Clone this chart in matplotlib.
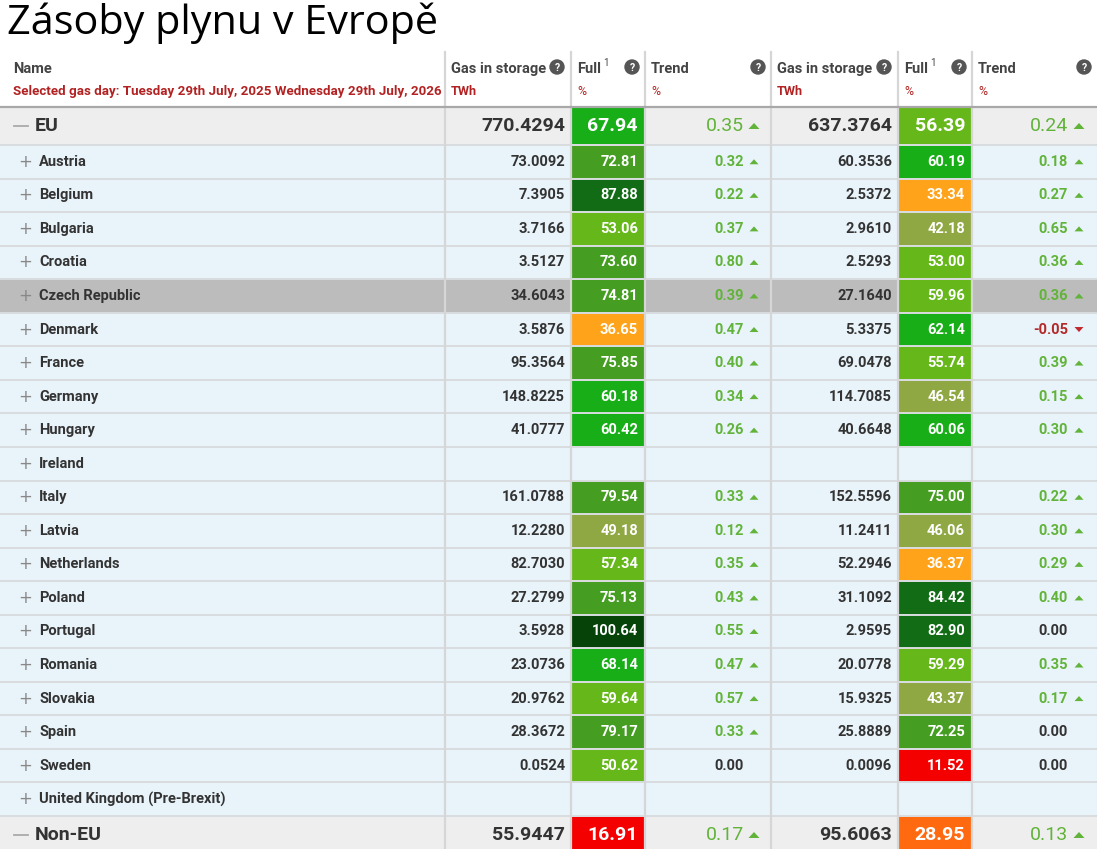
import matplotlib.pyplot as plt
from matplotlib.patches import Rectangle, Circle, Polygon

title = "Zásoby plynu v Evropě"
gas_day = "Selected gas day: Tuesday 29th July, 2025 Wednesday 29th July, 2026"

countries = ["Austria", "Belgium", "Bulgaria", "Croatia", "Czech Republic", "Denmark",
             "France", "Germany", "Hungary", "Ireland", "Italy", "Latvia", "Netherlands",
             "Poland", "Portugal", "Romania", "Slovakia", "Spain", "Sweden",
             "United Kingdom (Pre-Brexit)"]
gas_2025 = [73.0092, 7.3905, 3.7166, 3.5127, 34.6043, 3.5876, 95.3564, 148.8225, 41.0777, None,
            161.0788, 12.2280, 82.7030, 27.2799, 3.5928, 23.0736, 20.9762, 28.3672, 0.0524, None]
full_2025 = [72.81, 87.88, 53.06, 73.60, 74.81, 36.65, 75.85, 60.18, 60.42, None,
             79.54, 49.18, 57.34, 75.13, 100.64, 68.14, 59.64, 79.17, 50.62, None]
trend_2025 = [0.32, 0.22, 0.37, 0.80, 0.39, 0.47, 0.40, 0.34, 0.26, None,
              0.33, 0.12, 0.35, 0.43, 0.55, 0.47, 0.57, 0.33, 0.00, None]
gas_2026 = [60.3536, 2.5372, 2.9610, 2.5293, 27.1640, 5.3375, 69.0478, 114.7085, 40.6648, None,
            152.5596, 11.2411, 52.2946, 31.1092, 2.9595, 20.0778, 15.9325, 25.8889, 0.0096, None]
full_2026 = [60.19, 33.34, 42.18, 53.00, 59.96, 62.14, 55.74, 46.54, 60.06, None,
             75.00, 46.06, 36.37, 84.42, 82.90, 59.29, 43.37, 72.25, 11.52, None]
trend_2026 = [0.18, 0.27, 0.65, 0.36, 0.36, -0.05, 0.39, 0.15, 0.30, None,
              0.22, 0.30, 0.29, 0.40, 0.00, 0.35, 0.17, 0.00, 0.00, None]

eu_values = [770.4294, 67.94, 0.35, 637.3764, 56.39, 0.24]
noneu_values = [55.9447, 16.91, 0.17, 95.6063, 28.95, 0.13]
highlight = "Czech Republic"

# fill colour bands (upper bound, colour)
bands = [(20, "#f50000"), (30, "#ff6a10"), (40, "#ffa41a"), (50, "#8fa843"),
         (60, "#66b81a"), (70, "#18ae18"), (80, "#459e22"), (90, "#126c16"), (999, "#054309")]

W, H = 1097, 849
cols = [0, 445, 571, 645, 771, 898, 972, 1097]
head_top, head_bot = 52, 107
eu_h = 38
row_h = 33.55

TXT = "#333333"
GREEN = "#62b33a"
RED = "#b22a2a"
HRED = "#b22222"
LINE = "#d8dcdf"
FONT = "Roboto"


def fill_color(v):
    for lim, c in bands:
        if v < lim:
            return c


fig = plt.figure(figsize=(W / 100, H / 100), dpi=100)
ax = fig.add_axes([0, 0, 1, 1])
ax.set_xlim(0, W)
ax.set_ylim(H, 0)
ax.axis("off")

ax.text(7, 23, title, fontsize=29.8, family="Open Sans", va="center", ha="left", color="black")


def qmark(x, y):
    ax.add_patch(Circle((x, y), 7, color="#555555", zorder=4))
    ax.text(x, y + 0.5, "?", fontsize=7.5, color="white", weight="bold", family=FONT,
            ha="center", va="center", zorder=5)


# header
ax.text(13, 69, "Name", fontsize=10.5, weight="bold", color="#444444", family=FONT, va="center")
ax.text(13, 91, gas_day, fontsize=9.6, weight="bold", color=HRED, family=FONT, va="center")
for g in range(2):
    c0 = 3 * g
    xg, xf, xt = cols[1 + c0], cols[2 + c0], cols[3 + c0]
    ax.text(xg + 6, 69, "Gas in storage", fontsize=10.5, weight="bold", color="#444444",
            family=FONT, va="center")
    ax.text(xg + 6, 91, "TWh", fontsize=9.2, weight="bold", color=HRED, family=FONT, va="center")
    qmark(cols[2 + c0] - 14, 67)
    ax.text(xf + 6, 69, "Full", fontsize=10.5, weight="bold", color="#444444", family=FONT,
            va="center")
    ax.text(xf + 32, 63, "1", fontsize=7, color="#444444", family=FONT, va="center")
    qmark(cols[3 + c0] - 13, 67)
    ax.text(xf + 6, 91, "%", fontsize=8.8, color=HRED, family=FONT, va="center")
    ax.text(xt + 6, 69, "Trend", fontsize=10.5, weight="bold", color="#444444", family=FONT,
            va="center")
    ax.text(xt + 6, 91, "%", fontsize=8.8, color=HRED, family=FONT, va="center")
    qmark(cols[4 + c0] - 13, 67)


def arrow(x, y, up, color, big):
    w = 5.5 if big else 4.5
    hh = 3 if big else 2.5
    if up:
        pts = [(x - w, y + hh), (x + w, y + hh), (x, y - hh)]
    else:
        pts = [(x - w, y - hh), (x + w, y - hh), (x, y + hh)]
    ax.add_patch(Polygon(pts, closed=True, color=color, zorder=4, lw=0))


def draw_row(y0, h, name, vals, bg, big):
    yc = y0 + h / 2
    ax.add_patch(Rectangle((0, y0), W, h, color=bg, zorder=1, lw=0))
    fs = 14 if big else 10.5
    if big:
        ax.plot([14, 28], [yc, yc], color="#aaaaaa", lw=1.3, zorder=3)
        ax.text(35, yc, name, fontsize=fs, weight="bold", color=TXT, family=FONT, va="center")
    else:
        ax.text(25.5, yc, "+", fontsize=12, color="#888888", family="DejaVu Sans", va="center",
                ha="center")
        ax.text(39, yc, name, fontsize=fs, weight="bold", color=TXT, family=FONT, va="center")
    for g in range(2):
        gas, full, trend = vals[3 * g: 3 * g + 3]
        c0 = 3 * g
        if gas is None:
            continue
        ax.text(cols[2 + c0] - 6, yc, f"{gas:.4f}", fontsize=fs, weight="bold", color=TXT,
                family=FONT, ha="right", va="center", zorder=3)
        ax.add_patch(Rectangle((cols[2 + c0] + 1, y0 + 0.7), cols[3 + c0] - cols[2 + c0] - 2,
                               h - 1.4, color=fill_color(full), zorder=2, lw=0))
        ax.text(cols[3 + c0] - 7, yc, f"{full:.2f}", fontsize=fs, weight="bold", color="white",
                family=FONT, ha="right", va="center", zorder=3)
        tx = cols[4 + c0] - 27 - 2 * g
        if trend > 0:
            col = GREEN
        elif trend < 0:
            col = RED
        else:
            col = TXT
        wt = "normal" if (big and col != TXT) else "bold"
        ax.text(tx, yc, f"{trend:.2f}", fontsize=fs, weight=wt,
                color=col, family=FONT, ha="right", va="center", zorder=3)
        if trend != 0:
            arrow(tx + 10 + g, yc, trend > 0, col if trend > 0 else "#c0282d", big)


draw_row(head_bot, eu_h, "EU", eu_values, "#eeeeee", True)
y = head_bot + eu_h
for i, name in enumerate(countries):
    vals = [gas_2025[i], full_2025[i], trend_2025[i], gas_2026[i], full_2026[i], trend_2026[i]]
    bg = "#bcbcbc" if name == highlight else "#e9f4fa"
    draw_row(y + i * row_h, row_h, name, vals, bg, False)
y_non = y + len(countries) * row_h
draw_row(y_non, eu_h, "Non-EU", noneu_values, "#eeeeee", True)

# grid lines
for i in range(len(countries) + 1):
    yy = y + i * row_h
    ax.plot([0, W], [yy, yy], color=LINE, lw=1.4, zorder=2.5)
for x in cols[1:-1]:
    ax.plot([x, x], [head_top, H], color="#d6d6d6", lw=1.6, zorder=2.5)
ax.plot([0, W], [head_bot, head_bot], color="#a8a8a8", lw=1.6, zorder=2.6)

fig.savefig("out.png", dpi=100)
